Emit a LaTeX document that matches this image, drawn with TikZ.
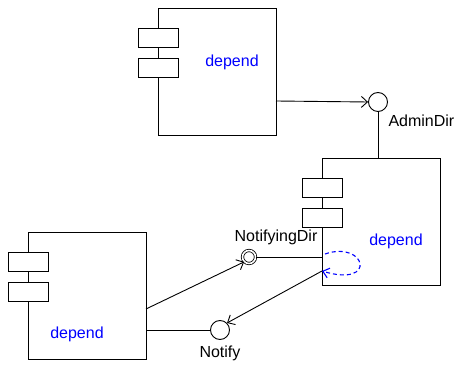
\documentclass[tikz,border=0pt]{standalone}
\usepackage{fontspec}
\setmainfont{Liberation Sans}
\usetikzlibrary{arrows.meta}
\begin{document}
\begin{tikzpicture}[x=1pt,y=-1pt,
  comp/.style={draw,line width=1pt,fill=white,minimum width=118pt,minimum height=127pt,inner sep=0pt,anchor=north west},
  port/.style={draw,line width=1pt,fill=white,minimum width=40pt,minimum height=19pt,inner sep=0pt,anchor=north west},
  lbl/.style={text=blue,font=\fontsize{16}{18}\selectfont},
  txt/.style={font=\fontsize{16}{18}\selectfont},
  iface/.style={circle,draw,line width=0.9pt,fill=white,minimum size=19pt,inner sep=0pt},
  dbl/.style={circle,draw,line width=0.8pt,double,double distance=1.6pt,fill=white,minimum size=13pt,inner sep=0pt},
  conn/.style={line width=0.9pt},
  arr/.style={line width=0.9pt,-{Straight Barb[length=6pt,width=11pt]}}]
\useasboundingbox (0,0) rectangle (456,366);
% top component
\node[comp] (c1) at (158,8) {};
\node[port] (c1a) at (138,28) {};
\node[port] (c1b) at (138,58) {};
\node[lbl] (c1t) at (232,62) {depend};
% right component
\node[comp] (c2) at (322,158) {};
\node[port] (c2a) at (302,178) {};
\node[port] (c2b) at (302,208) {};
\node[lbl] (c2t) at (396,241) {depend};
% left component
\node[comp] (c3) at (28,232) {};
\node[port] (c3a) at (8,252) {};
\node[port] (c3b) at (8,282) {};
\node[lbl] (c3t) at (77,334) {depend};
% interfaces
\node[iface] (admin) at (378,102) {};
\node[txt,anchor=west] (admint) at (385,121) {AdminDir};
\node[dbl] (nd) at (249,257) {};
\node[txt] (ndt) at (276,237) {NotifyingDir};
\node[iface] (notify) at (220,330) {};
\node[txt] (notifyt) at (220,353) {Notify};
% coordinates
\coordinate (c1out) at (276,101);
\coordinate (c2top) at (378,158);
\coordinate (c2nd) at (322,257);
\coordinate (c2loopA) at (325,254);
\coordinate (c2loopB) at (322,271);
\coordinate (c3out1) at (146,309);
\coordinate (c3out2) at (146,330);
% connectors
\draw[arr] (c1out) -- (admin.west);
\draw[conn] (admin.south) -- (c2top);
\draw[conn] (nd.east) -- (c2nd);
\draw[arr] (c3out1) -- (nd.south west);
\draw[conn] (c3out2) -- (notify.west);
\draw[arr] (c2loopB) -- (notify.north east);
\draw[blue,line width=1.1pt,dash pattern=on 4pt off 3pt,-{Straight Barb[length=6pt,width=10pt]}] (c2loopA) .. controls (366,240) and (378,288) .. (c2loopB);
\end{tikzpicture}
\end{document}
